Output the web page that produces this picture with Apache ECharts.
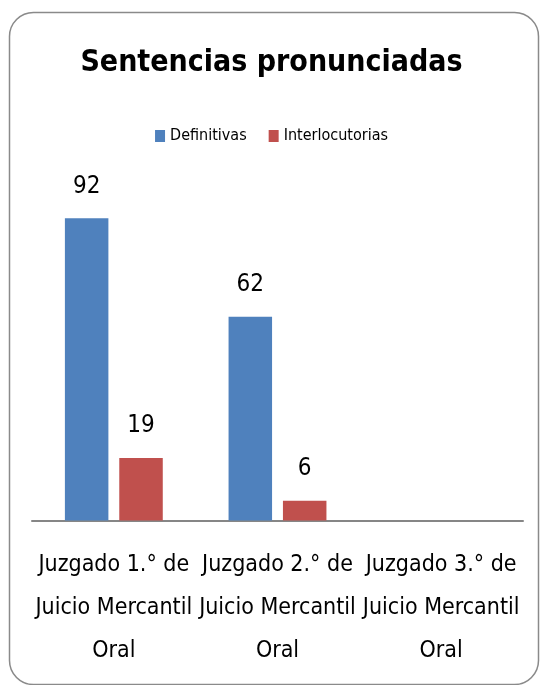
<!DOCTYPE html>
<html>
<head>
<meta charset="utf-8">
<script src="https://cdn.jsdelivr.net/npm/echarts@6/dist/echarts.min.js"></script>
<style>
html,body{margin:0;padding:0;background:#fff;}
#chart{width:543px;height:685px;}
</style>
</head>
<body>
<div id="chart"></div>
<script>
const categories = ["Juzgado 1.° de\nJuicio Mercantil\nOral", "Juzgado 2.° de\nJuicio Mercantil\nOral", "Juzgado 3.° de\nJuicio Mercantil\nOral"];
const definitivas = [92, 62, null];
const interlocutorias = [19, 6, null];
const seriesNames = ["Definitivas", "Interlocutorias"];
const titleText = "Sentencias pronunciadas";

const FONT = '"DejaVu Sans Condensed", "Liberation Sans Narrow", sans-serif';
const chart = echarts.init(document.getElementById('chart'), null, {renderer: 'canvas'});
chart.setOption({
  animation: false,
  backgroundColor: '#fff',
  textStyle: {fontFamily: FONT},
  graphic: [{
    type: 'rect', left: 7, top: 10,
    shape: {width: 529, height: 672, r: 24},
    style: {fill: 'none', stroke: '#8a8a8a', lineWidth: 1.5},
    silent: true
  }],
  title: {
    text: titleText, left: 'center', top: 43,
    textStyle: {fontFamily: FONT, fontWeight: 'bold', fontSize: 30, color: '#000'}
  },
  legend: {
    top: 123, left: 'center', itemWidth: 10, itemHeight: 12, itemGap: 22,
    icon: 'rect',
    textStyle: {fontFamily: FONT, fontSize: 16, color: '#000'},
    data: seriesNames
  },
  grid: {left: 32, right: 20, top: 192, bottom: 164.5, containLabel: false},
  xAxis: {
    type: 'category', data: categories,
    axisLine: {lineStyle: {color: '#868686', width: 2}},
    axisTick: {show: false},
    axisLabel: {interval: 0, fontFamily: FONT, fontSize: 23, color: '#000', lineHeight: 43, margin: 23}
  },
  yAxis: {type: 'value', min: 0, max: 100, show: false, splitLine: {show: false}},
  series: [
    {name: seriesNames[0], type: 'bar', data: definitivas, barWidth: 43.5, barGap: '25%',
     itemStyle: {color: '#4F81BD'},
     label: {show: true, position: 'top', distance: 20, fontFamily: FONT, fontSize: 24, color: '#000'}},
    {name: seriesNames[1], type: 'bar', data: interlocutorias, barWidth: 43.5,
     itemStyle: {color: '#C0504D'},
     label: {show: true, position: 'top', distance: 20, fontFamily: FONT, fontSize: 24, color: '#000'}}
  ]
});
</script>
</body>
</html>
